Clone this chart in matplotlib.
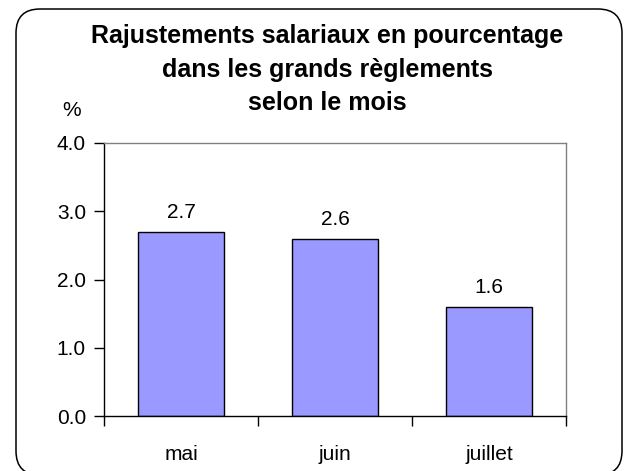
import matplotlib
matplotlib.use("Agg")
import matplotlib.pyplot as plt
from matplotlib.patches import FancyBboxPatch

plt.rcParams['font.family'] = ['Liberation Sans', 'DejaVu Sans']

# Data
months = ["mai", "juin", "juillet"]
values = [2.7, 2.6, 1.6]
y_ticks = [0.0, 1.0, 2.0, 3.0, 4.0]

fig = plt.figure(figsize=(6.28, 4.71), dpi=100)

# rounded frame around the whole chart (in inches, bottom edge runs off the canvas)
frame = FancyBboxPatch((0.16, -0.04), 6.06, 4.66,
                       boxstyle="round,pad=0,rounding_size=0.24",
                       transform=fig.dpi_scale_trans, facecolor="none",
                       edgecolor="black", linewidth=1.1, zorder=-1)
fig.patches.append(frame)

ax = fig.add_axes([104 / 628, 1 - 416 / 471, 462 / 628, 273 / 471])
x = range(len(months))
bars = ax.bar(x, values, width=0.56, color="#9999FF", edgecolor="black", linewidth=1.0)

for i, v in enumerate(values):
    ax.text(i, v + 0.28, f"{v:.1f}", ha="center", va="center", fontsize=15)

ax.set_xlim(-0.5, 2.5)
ax.set_ylim(0, 4.0)
ax.set_yticks(y_ticks)
ax.set_yticklabels([f"{t:.1f}" for t in y_ticks])
ax.set_xticks([-0.5, 0.5, 1.5, 2.5], minor=False)
ax.set_xticklabels([])
ax.set_xticks(list(x), minor=True)
ax.set_xticklabels(months, minor=True)
ax.tick_params(axis="x", which="major", direction="out", length=7, width=1, color="black")
ax.tick_params(axis="x", which="minor", length=0, pad=21, labelsize=15)
ax.tick_params(axis="y", direction="out", length=7, width=1, pad=6, labelsize=15)

ax.spines["left"].set_color("black")
ax.spines["bottom"].set_color("black")
ax.spines["top"].set_color("#808080")
ax.spines["right"].set_color("#808080")
for s in ax.spines.values():
    s.set_linewidth(1.0)

fig.text(327 / 628, 1 - 24 / 471,
         "Rajustements salariaux en pourcentage\ndans les grands règlements\nselon le mois",
         ha="center", va="top", fontsize=18, fontweight="bold", linespacing=1.5)
fig.text(72 / 628, 1 - 111 / 471, "%", ha="center", va="center", fontsize=15)

fig.savefig("out.png", dpi=100)
